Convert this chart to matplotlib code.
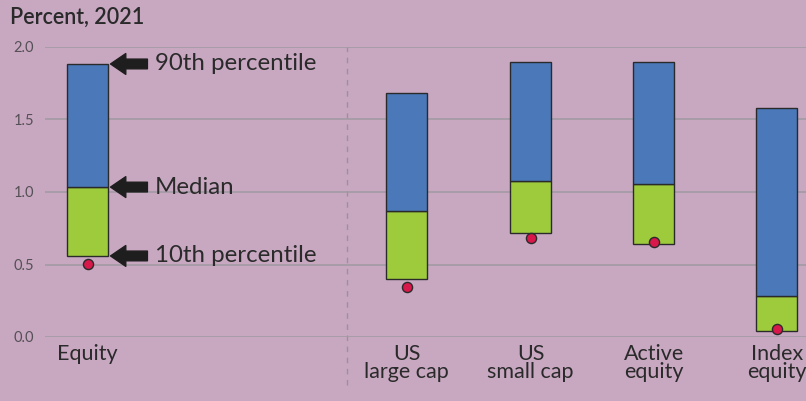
import matplotlib
matplotlib.use("Agg")
import matplotlib.pyplot as plt

# data (percent, 2021)
categories = ["Equity", "US\nlarge cap", "US\nsmall cap", "Active\nequity", "Index\nequity"]
positions = [0, 2.593, 3.602, 4.602, 5.602]
p10 = [0.559, 0.40, 0.717, 0.64, 0.039]
median = [1.034, 0.869, 1.076, 1.055, 0.285]
p90 = [1.883, 1.683, 1.897, 1.897, 1.579]
dots = [0.503, 0.343, 0.68, 0.655, 0.057]
yticks = [0.0, 0.5, 1.0, 1.5, 2.0]

bg = "#C8A8C1"
blue = "#4A78B8"
green = "#9ECB3C"
red = "#D8174A"
dark = "#2A2A2A"

plt.rcParams['font.family'] = ['Lato', 'DejaVu Sans']

fig = plt.figure(figsize=(8.06, 4.01), dpi=100, facecolor=bg)
ax = fig.add_axes([45/806, 1-337/401, 1-45/806, (337-47)/401], facecolor=bg)

w = 0.333
lower_h = [m - lo for m, lo in zip(median, p10)]
upper_h = [hi - m for hi, m in zip(p90, median)]
ax.bar(positions, lower_h, bottom=p10, width=w, color=green, edgecolor=dark, linewidth=1, zorder=3)
ax.bar(positions, upper_h, bottom=median, width=w, color=blue, edgecolor=dark, linewidth=1, zorder=3)
ax.plot(positions, dots, 'o', color=red, markersize=7.3, markeredgecolor=dark, markeredgewidth=1, zorder=4, clip_on=False)

ax.set_xlim(-0.346, 5.84)
ax.set_ylim(0, 2.0)
ax.set_yticks(yticks)
ax.set_yticklabels(["%.1f" % v for v in yticks], color="#555055", fontsize=10.5)
ax.set_xticks(positions)
ax.set_xticklabels(categories, fontsize=15.5, color=dark, linespacing=0.85)
ax.tick_params(axis='both', length=0)
ax.tick_params(axis='x', pad=5)
ax.tick_params(axis='y', pad=8)
ax.grid(axis='y', color="#A29AA3", linewidth=1.2, zorder=0)
for s in ax.spines.values():
    s.set_visible(False)

# dashed separator
ax.plot([2.11, 2.11], [-0.33, 2.0], color="#9A929B", linestyle=(0, (4, 4)), linewidth=1, clip_on=False, zorder=1)

# annotations for equity bar
labels = ["90th percentile", "Median", "10th percentile"]
vals = [p90[0], median[0], p10[0]]
for lab, v in zip(labels, vals):
    ax.annotate('', xy=(positions[0] + w/2 + 0.02, v), xytext=(positions[0] + w/2 + 0.32, v),
                arrowprops=dict(facecolor="#1E1E1E", edgecolor="#1E1E1E", width=7, headwidth=15,
                                headlength=11, shrink=0), zorder=5)
    ax.text(positions[0] + w/2 + 0.38, v, lab, fontsize=17.3, color=dark, va='center', ha='left')

fig.text(10/806, 1-17/401, "Percent, 2021", fontsize=15.5, fontweight='semibold', color=dark, va='center', ha='left')

fig.savefig("out.png", dpi=100, facecolor=bg)
